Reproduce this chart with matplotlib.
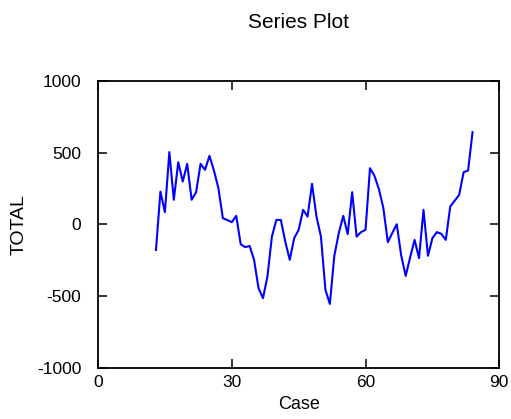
import matplotlib
matplotlib.use("Agg")
import matplotlib.pyplot as plt

plt.rcParams['font.family'] = ['Liberation Sans Narrow', 'Liberation Sans', 'DejaVu Sans']
plt.rcParams['axes.unicode_minus'] = False

# case numbers and TOTAL values
cases = list(range(13, 85))
total = [-178, 228, 85, 503, 171, 433, 298, 421, 171, 224,
         421, 380, 477, 375, 252, 43, 30, 15, 59, -138,
         -159, -150, -247, -444, -514, -363, -85, 31, 31, -120,
         -247, -96, -38, 101, 54, 282, 54, -85, -456, -554,
         -219, -61, 59, -68, 224, -85, -54, -38, 391, 338,
         245, 113, -124, -60, 1, -217, -359, -230, -108, -235,
         101, -219, -96, -54, -66, -108, 124, 165, 205, 363,
         375, 642]

xticks = [0, 30, 60, 90]
yticks = [-1000, -500, 0, 500, 1000]

fig = plt.figure(figsize=(5.11, 4.19), dpi=100)
ax = fig.add_axes([0.1918, 0.1217, 0.7853, 0.6857])

ax.plot(cases, total, color='#0000ff', linewidth=1.5)

ax.set_xlim(0, 90)
ax.set_ylim(-1000, 1000)
ax.set_xticks(xticks)
ax.set_yticks(yticks)
ax.tick_params(direction='in', length=6.5, width=1.1, top=True, right=True,
               labelsize=12.5)
ax.tick_params(axis='y', pad=12)
ax.tick_params(axis='x', pad=5)
for s in ax.spines.values():
    s.set_linewidth(1.3)

ax.set_xlabel("Case", fontsize=13, labelpad=4)
ax.set_ylabel("TOTAL", fontsize=14, labelpad=7)
fig.text(0.584, 0.947, "Series Plot", fontsize=15, ha='center', va='center')

fig.savefig("out.png", dpi=100)
